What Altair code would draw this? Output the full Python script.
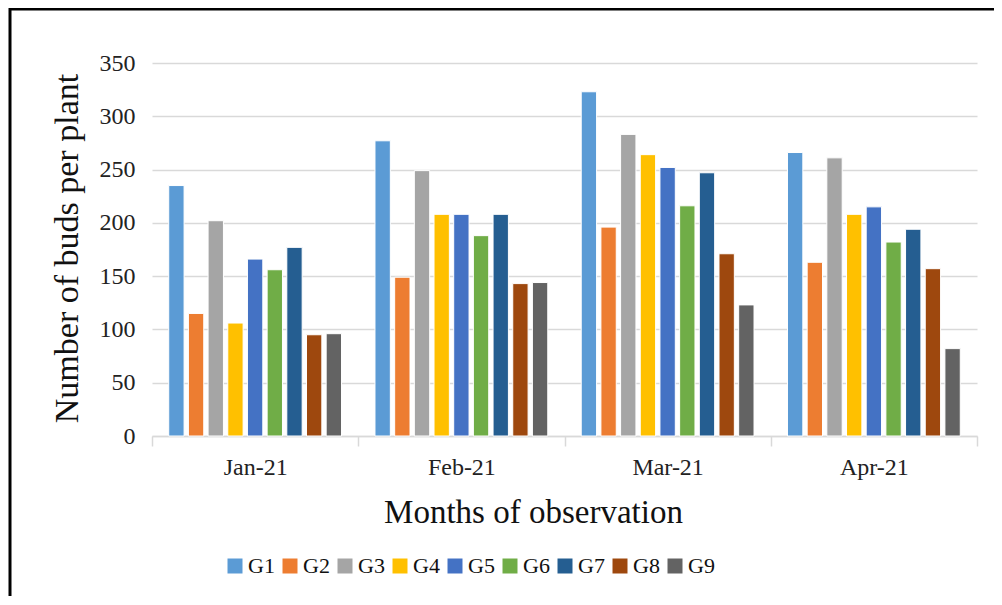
import altair as alt
import pandas as pd

months = ["Jan-21", "Feb-21", "Mar-21", "Apr-21"]
groups = ["G1", "G2", "G3", "G4", "G5", "G6", "G7", "G8", "G9"]
colors = ["#5B9BD5", "#ED7D31", "#A5A5A5", "#FFC000", "#4472C4",
          "#70AD47", "#255E91", "#9E480E", "#636363"]

jan = [235, 115, 202, 106, 166, 156, 177, 95, 96]
feb = [277, 149, 249, 208, 208, 188, 208, 143, 144]
mar = [323, 196, 283, 264, 252, 216, 247, 171, 123]
apr = [266, 163, 261, 208, 215, 182, 194, 157, 82]

rows = []
for m, vals in zip(months, [jan, feb, mar, apr]):
    for g, v in zip(groups, vals):
        rows.append({"month": m, "group": g, "buds": v})
df = pd.DataFrame(rows)

FONT = "Liberation Serif"
W, H = 825, 373

bars = alt.Chart(df).mark_bar(stroke="white", strokeWidth=1).encode(
    x=alt.X("month:N", sort=months,
            scale=alt.Scale(paddingInner=0, paddingOuter=0),
            axis=alt.Axis(title="Months of observation", labelAngle=0,
                          labelFontSize=24, labelFont=FONT, labelColor="#222222",
                          labelPadding=9, tickSize=10, tickBand="extent",
                          tickColor="#D9D9D9", tickWidth=1.5,
                          domainColor="#D9D9D9", domainWidth=1.5,
                          titleFont=FONT, titleFontSize=33, titleFontWeight="normal",
                          titleColor="#111111", titleX=381, titleY=86,
                          titleBaseline="alphabetic", titleAlign="center")),
    xOffset=alt.XOffset("group:N", sort=groups,
                        scale=alt.Scale(paddingInner=0.22, paddingOuter=0.85)),
    y=alt.Y("buds:Q",
            scale=alt.Scale(domain=[0, 350], nice=False),
            axis=alt.Axis(title="Number of buds per plant", values=list(range(0, 351, 50)),
                          labelFontSize=24, labelFont=FONT, labelColor="#222222",
                          labelPadding=17, ticks=False, domain=False,
                          grid=True, gridColor="#D9D9D9", gridWidth=1.5,
                          titleFont=FONT, titleFontSize=34, titleFontWeight="normal",
                          titleColor="#111111", titleAngle=270, titleX=-75, titleY=185,
                          titleBaseline="alphabetic", titleAlign="center")),
    color=alt.Color("group:N", sort=groups,
                    scale=alt.Scale(domain=groups, range=colors),
                    legend=alt.Legend(title=None, orient="none", direction="horizontal",
                                      legendX=72, legendY=492, padding=0,
                                      symbolType="square", symbolSize=225,
                                      symbolStrokeWidth=0, labelFont=FONT,
                                      labelFontSize=22, labelColor="#111111",
                                      labelOffset=2, columnPadding=4)),
)

frame = alt.Chart(pd.DataFrame({"k": [0]})).mark_rect(
    fill=None, stroke="black", strokeWidth=3, clip=False
).encode(
    x=alt.value(-142), x2=alt.value(W + 40),
    y=alt.value(-54), y2=alt.value(H + 200),
)

chart = alt.layer(frame, bars).properties(
    width=W, height=H,
    autosize=alt.AutoSizeParams(type="none"),
    padding={"left": 144, "top": 55, "right": 17, "bottom": 160},
    background="white",
).configure_view(stroke=None)

chart.save("out.html", embed_options={"renderer": "svg", "actions": False})
